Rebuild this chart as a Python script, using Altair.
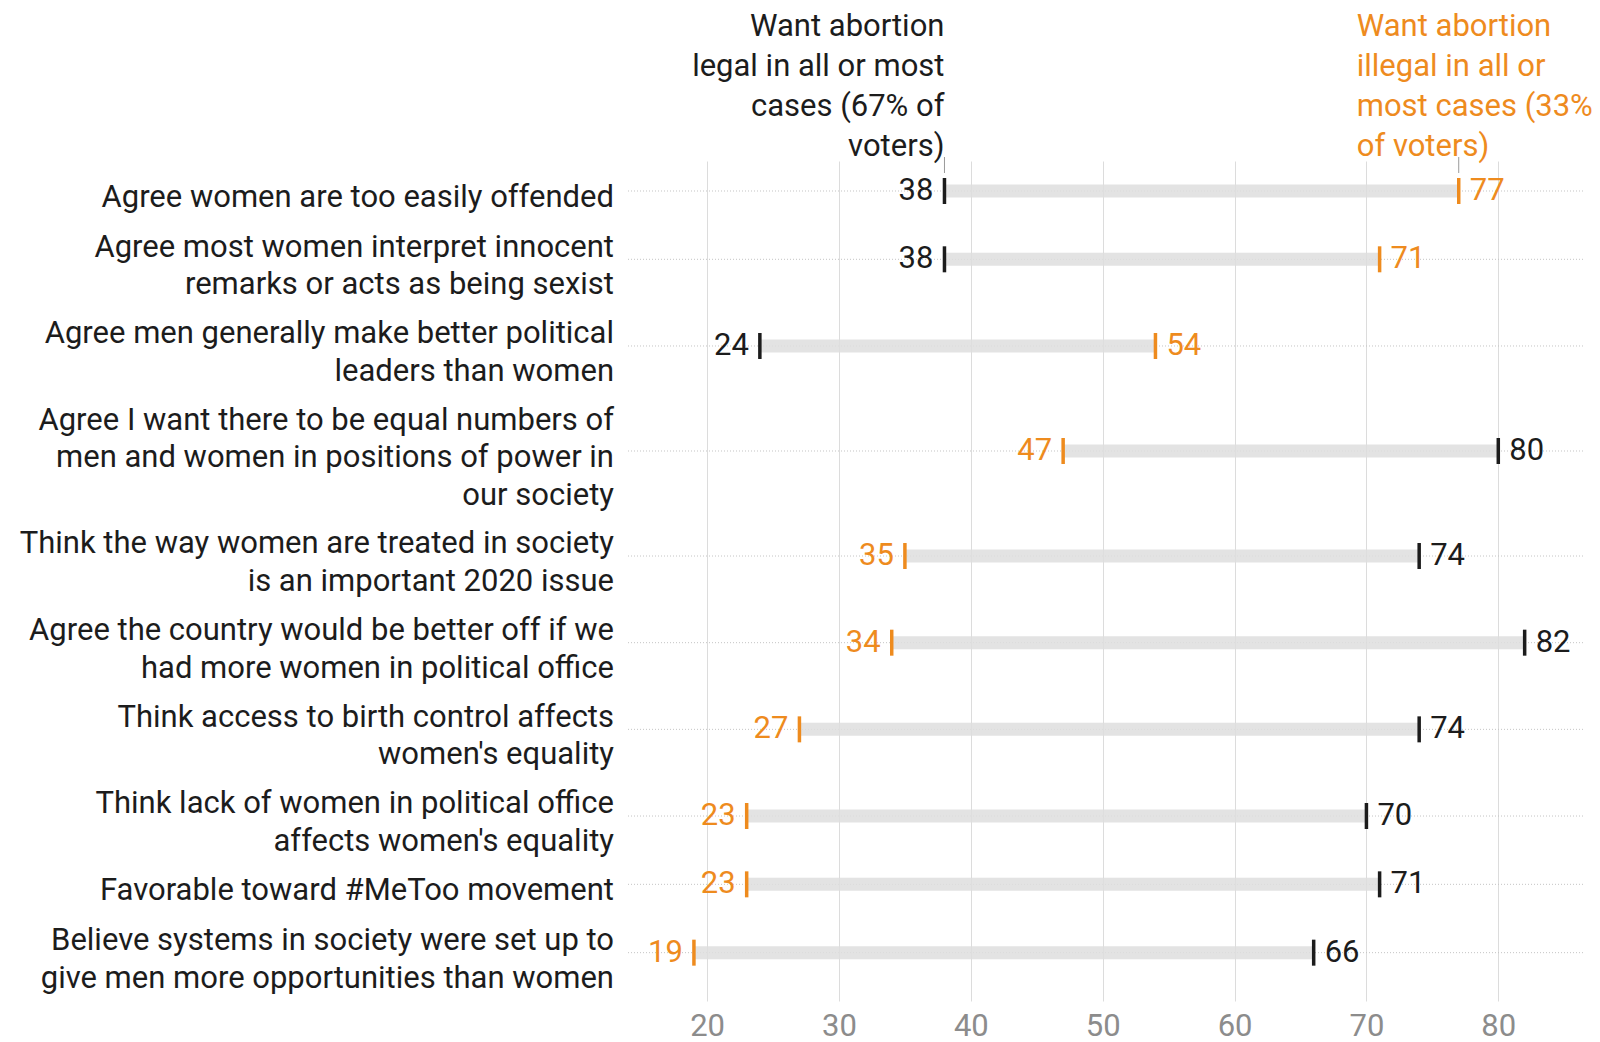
import altair as alt
import pandas as pd

categories = [
    "Agree women are too easily offended",
    "Agree most women interpret innocent\nremarks or acts as being sexist",
    "Agree men generally make better political\nleaders than women",
    "Agree I want there to be equal numbers of\nmen and women in positions of power in\nour society",
    "Think the way women are treated in society\nis an important 2020 issue",
    "Agree the country would be better off if we\nhad more women in political office",
    "Think access to birth control affects\nwomen's equality",
    "Think lack of women in political office\naffects women's equality",
    "Favorable toward #MeToo movement",
    "Believe systems in society were set up to\ngive men more opportunities than women",
]
legal = [38, 38, 24, 80, 74, 82, 74, 70, 71, 66]
illegal = [77, 71, 54, 47, 35, 34, 27, 23, 23, 19]

header_legal = "Want abortion\nlegal in all or most\ncases (67% of\nvoters)"
header_illegal = "Want abortion\nillegal in all or\nmost cases (33%\nof voters)"

BLACK = "#1c1c1c"
ORANGE = "#ee8b1e"
FONT = "Roboto"
FS = 31
LABEL_LH = 37.8
HEAD_LH = 40

W, H = 956, 840

# row layout from number of label lines
GAP = 0.362
centers = []
nlines = []
pos = 0.0
for c in categories:
    n = len(c.split("\n"))
    h = n + GAP
    centers.append(pos + h / 2)
    nlines.append(n)
    pos += h
total = pos
ppu = H / total

rows = pd.DataFrame({
    "label": categories,
    "y": centers,
    "n": nlines,
    "legal": legal,
    "illegal": illegal,
})
rows["label_y"] = rows["y"] - (rows["n"] - 1) / 2 * LABEL_LH / ppu
rows["lo"] = rows[["legal", "illegal"]].min(axis=1)
rows["hi"] = rows[["legal", "illegal"]].max(axis=1)

long_rows = []
for i, r in rows.iterrows():
    for grp, v in (("legal", r["legal"]), ("illegal", r["illegal"])):
        side = "R" if v == r["hi"] else "L"
        long_rows.append({"y": r["y"], "value": v, "group": grp, "side": side,
                          "txt": str(v)})
pts = pd.DataFrame(long_rows)

xs = alt.Scale(domain=[14, 86.5], nice=False, zero=False)
ys = alt.Scale(domain=[0, total], reverse=True, nice=False, zero=False)
color = alt.Scale(domain=["legal", "illegal"], range=[BLACK, ORANGE])

base_x = alt.X("value:Q", scale=xs,
               axis=alt.Axis(values=[20, 30, 40, 50, 60, 70, 80], grid=True,
                             gridColor="#dcdcdc", gridWidth=1, ticks=False,
                             domain=False, labelFontSize=31, labelColor="#8c8c8c",
                             labelFont=FONT, labelPadding=10, title=None))

grid_layer = alt.Chart(pts).mark_point(opacity=0).encode(
    x=base_x, y=alt.Y("y:Q", scale=ys, axis=None)
)

dotted = alt.Chart(rows).mark_rule(color="#c4c4c4", strokeDash=[1, 2], strokeWidth=1).encode(
    y=alt.Y("y:Q", scale=ys, axis=None),
    x=alt.value(0), x2=alt.value(W),
)

bars = alt.Chart(rows).mark_bar(color="#dedede", opacity=0.85, height=13).encode(
    x=alt.X("lo:Q", scale=xs), x2="hi:Q",
    y=alt.Y("y:Q", scale=ys, axis=None),
)

ticks = alt.Chart(pts).mark_tick(orient="vertical", thickness=3.5, size=26, opacity=1).encode(
    x=alt.X("value:Q", scale=xs),
    y=alt.Y("y:Q", scale=ys, axis=None),
    color=alt.Color("group:N", scale=color, legend=None),
)

txt_l = alt.Chart(pts).transform_filter(alt.datum.side == "L").mark_text(
    align="right", baseline="middle", dx=-11, fontSize=FS, font=FONT
).encode(
    x=alt.X("value:Q", scale=xs), y=alt.Y("y:Q", scale=ys, axis=None),
    text="txt:N", color=alt.Color("group:N", scale=color, legend=None),
)
txt_r = alt.Chart(pts).transform_filter(alt.datum.side == "R").mark_text(
    align="left", baseline="middle", dx=11, fontSize=FS, font=FONT
).encode(
    x=alt.X("value:Q", scale=xs), y=alt.Y("y:Q", scale=ys, axis=None),
    text="txt:N", color=alt.Color("group:N", scale=color, legend=None),
)

labels = alt.Chart(rows).mark_text(
    align="right", baseline="middle", fontSize=FS, font=FONT, color=BLACK,
    lineBreak="\n", lineHeight=LABEL_LH, dy=7
).encode(
    x=alt.value(-14), y=alt.Y("label_y:Q", scale=ys, axis=None), text="label:N"
)

first = rows.iloc[[0]].copy()
first["h_legal"] = header_legal
first["h_illegal"] = header_illegal

head_l = alt.Chart(first).mark_text(
    align="right", baseline="middle", fontSize=FS, font=FONT, color=BLACK,
    lineBreak="\n", lineHeight=HEAD_LH
).encode(x=alt.X("legal:Q", scale=xs), y=alt.value(-134), text="h_legal:N")

head_r = alt.Chart(first).mark_text(
    align="left", baseline="middle", fontSize=FS, font=FONT, color=ORANGE,
    lineBreak="\n", lineHeight=HEAD_LH, dx=-102
).encode(x=alt.X("illegal:Q", scale=xs), y=alt.value(-134), text="h_illegal:N")

conn_l = alt.Chart(first).mark_rule(color="#9a9a9a", strokeWidth=1).encode(
    x=alt.X("legal:Q", scale=xs), y=alt.value(-4), y2=alt.value(12))
conn_r = alt.Chart(first).mark_rule(color="#9a9a9a", strokeWidth=1).encode(
    x=alt.X("illegal:Q", scale=xs), y=alt.value(-4), y2=alt.value(12))

chart = alt.layer(
    grid_layer, dotted, bars, conn_l, conn_r, ticks, txt_l, txt_r, labels, head_l, head_r
).properties(
    width=W, height=H,
    padding={"left": 620, "top": 153, "right": 8, "bottom": 53},
    autosize=alt.AutoSizeParams(type="none"),
    background="white",
).configure_view(stroke=None)

chart.save("out.html", embed_options={"renderer": "svg", "actions": False})
